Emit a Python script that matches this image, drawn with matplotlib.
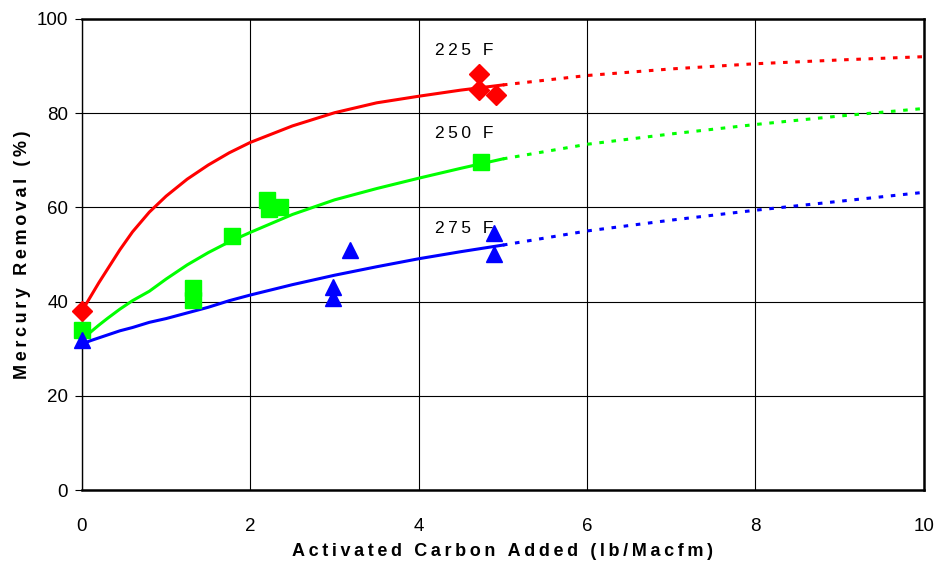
import matplotlib.pyplot as plt

plt.rcParams['font.family'] = ['Liberation Sans', 'DejaVu Sans']

# measured points
x_225 = [0.0, 4.72, 4.72, 4.92]
y_225 = [38.0, 88.3, 84.9, 83.9]
x_250 = [0.0, 1.32, 1.32, 1.78, 2.20, 2.22, 2.35, 4.74]
y_250 = [34.0, 42.9, 40.3, 53.9, 61.6, 59.7, 60.1, 69.6]
x_275 = [0.0, 2.98, 2.98, 3.18, 4.90, 4.90]
y_275 = [31.8, 43.1, 40.8, 51.0, 54.6, 50.1]

# fitted curves (solid over the data range, dotted beyond)
fit_x = [0.0, 0.1, 0.2, 0.3, 0.45, 0.6, 0.8, 1.0, 1.25, 1.5, 1.75, 2.0, 2.5, 3.0, 3.5, 4.0, 4.5, 5.0]
fit_225 = [38.0, 41.0, 44.0, 46.8, 51.0, 54.8, 59.0, 62.4, 66.0, 69.0, 71.6, 73.8, 77.3, 80.1, 82.2, 83.6, 84.9, 86.0]
fit_250 = [32.0, 33.5, 35.0, 36.4, 38.4, 40.2, 42.2, 44.8, 47.8, 50.4, 52.7, 54.7, 58.5, 61.6, 64.0, 66.2, 68.3, 70.3]
fit_275 = [31.0, 31.7, 32.3, 32.9, 33.8, 34.5, 35.6, 36.4, 37.6, 38.8, 40.2, 41.4, 43.6, 45.6, 47.4, 49.1, 50.6, 52.0]

ext_x = [5.0, 6.0, 7.0, 8.0, 9.0, 10.0]
ext_225 = [86.0, 88.0, 89.4, 90.5, 91.3, 92.0]
ext_250 = [70.3, 73.4, 75.6, 77.6, 79.4, 81.0]
ext_275 = [52.0, 55.0, 57.3, 59.4, 61.3, 63.2]

x_ticks = [0, 2, 4, 6, 8, 10]
y_ticks = [0, 20, 40, 60, 80, 100]


def spaced(s):
    # widen the letter spacing with thin spaces
    return '\u2009'.join(s)


fig = plt.figure(figsize=(9.38, 5.65), dpi=100)
ax = fig.add_axes([0.0874, 0.1327, 0.8975, 0.8337])

series = [
    (fit_225, ext_225, x_225, y_225, '#ff0000', 'D', 10.5, '225 F', 93.3),
    (fit_250, ext_250, x_250, y_250, '#00ff00', 's', 11.5, '250 F', 75.6),
    (fit_275, ext_275, x_275, y_275, '#0000ff', '^', 12, '275 F', 55.6),
]
for fit, ext, xs, ys, col, mk, ms, name, ty in series:
    ax.plot(fit_x, fit, color=col, lw=2.2, zorder=3)
    ax.plot(ext_x, ext, color=col, lw=2.2, linestyle=(0, (1.5, 2.5)), zorder=3)
    ax.plot(xs, ys, linestyle='none', marker=mk, ms=ms, color=col,
            markeredgecolor=col, zorder=4, clip_on=False)
    ax.text(4.19, ty, spaced(name), fontsize=12.5, ha='left', va='center', zorder=5)

ax.set_xlim(0, 10)
ax.set_ylim(0, 100)
ax.set_xticks(x_ticks)
ax.set_yticks(y_ticks)
ax.grid(True, color='black', linewidth=0.8)
ax.set_axisbelow(True)
for s in ax.spines.values():
    s.set_linewidth(1.8)
ax.spines['left'].set_linewidth(1.0)
ax.tick_params(axis='both', labelsize=13.5, direction='out', length=5, width=0.8)
ax.tick_params(axis='x', length=0, pad=20)
ax.tick_params(axis='y', pad=5)

ax.set_xlabel(spaced('Activated Carbon Added (lb/Macfm)'), fontsize=13,
              fontweight='bold', labelpad=6)
ax.set_ylabel(spaced('Mercury Removal (%)'), fontsize=13, fontweight='bold', labelpad=4)

fig.savefig('out.png', dpi=100)
